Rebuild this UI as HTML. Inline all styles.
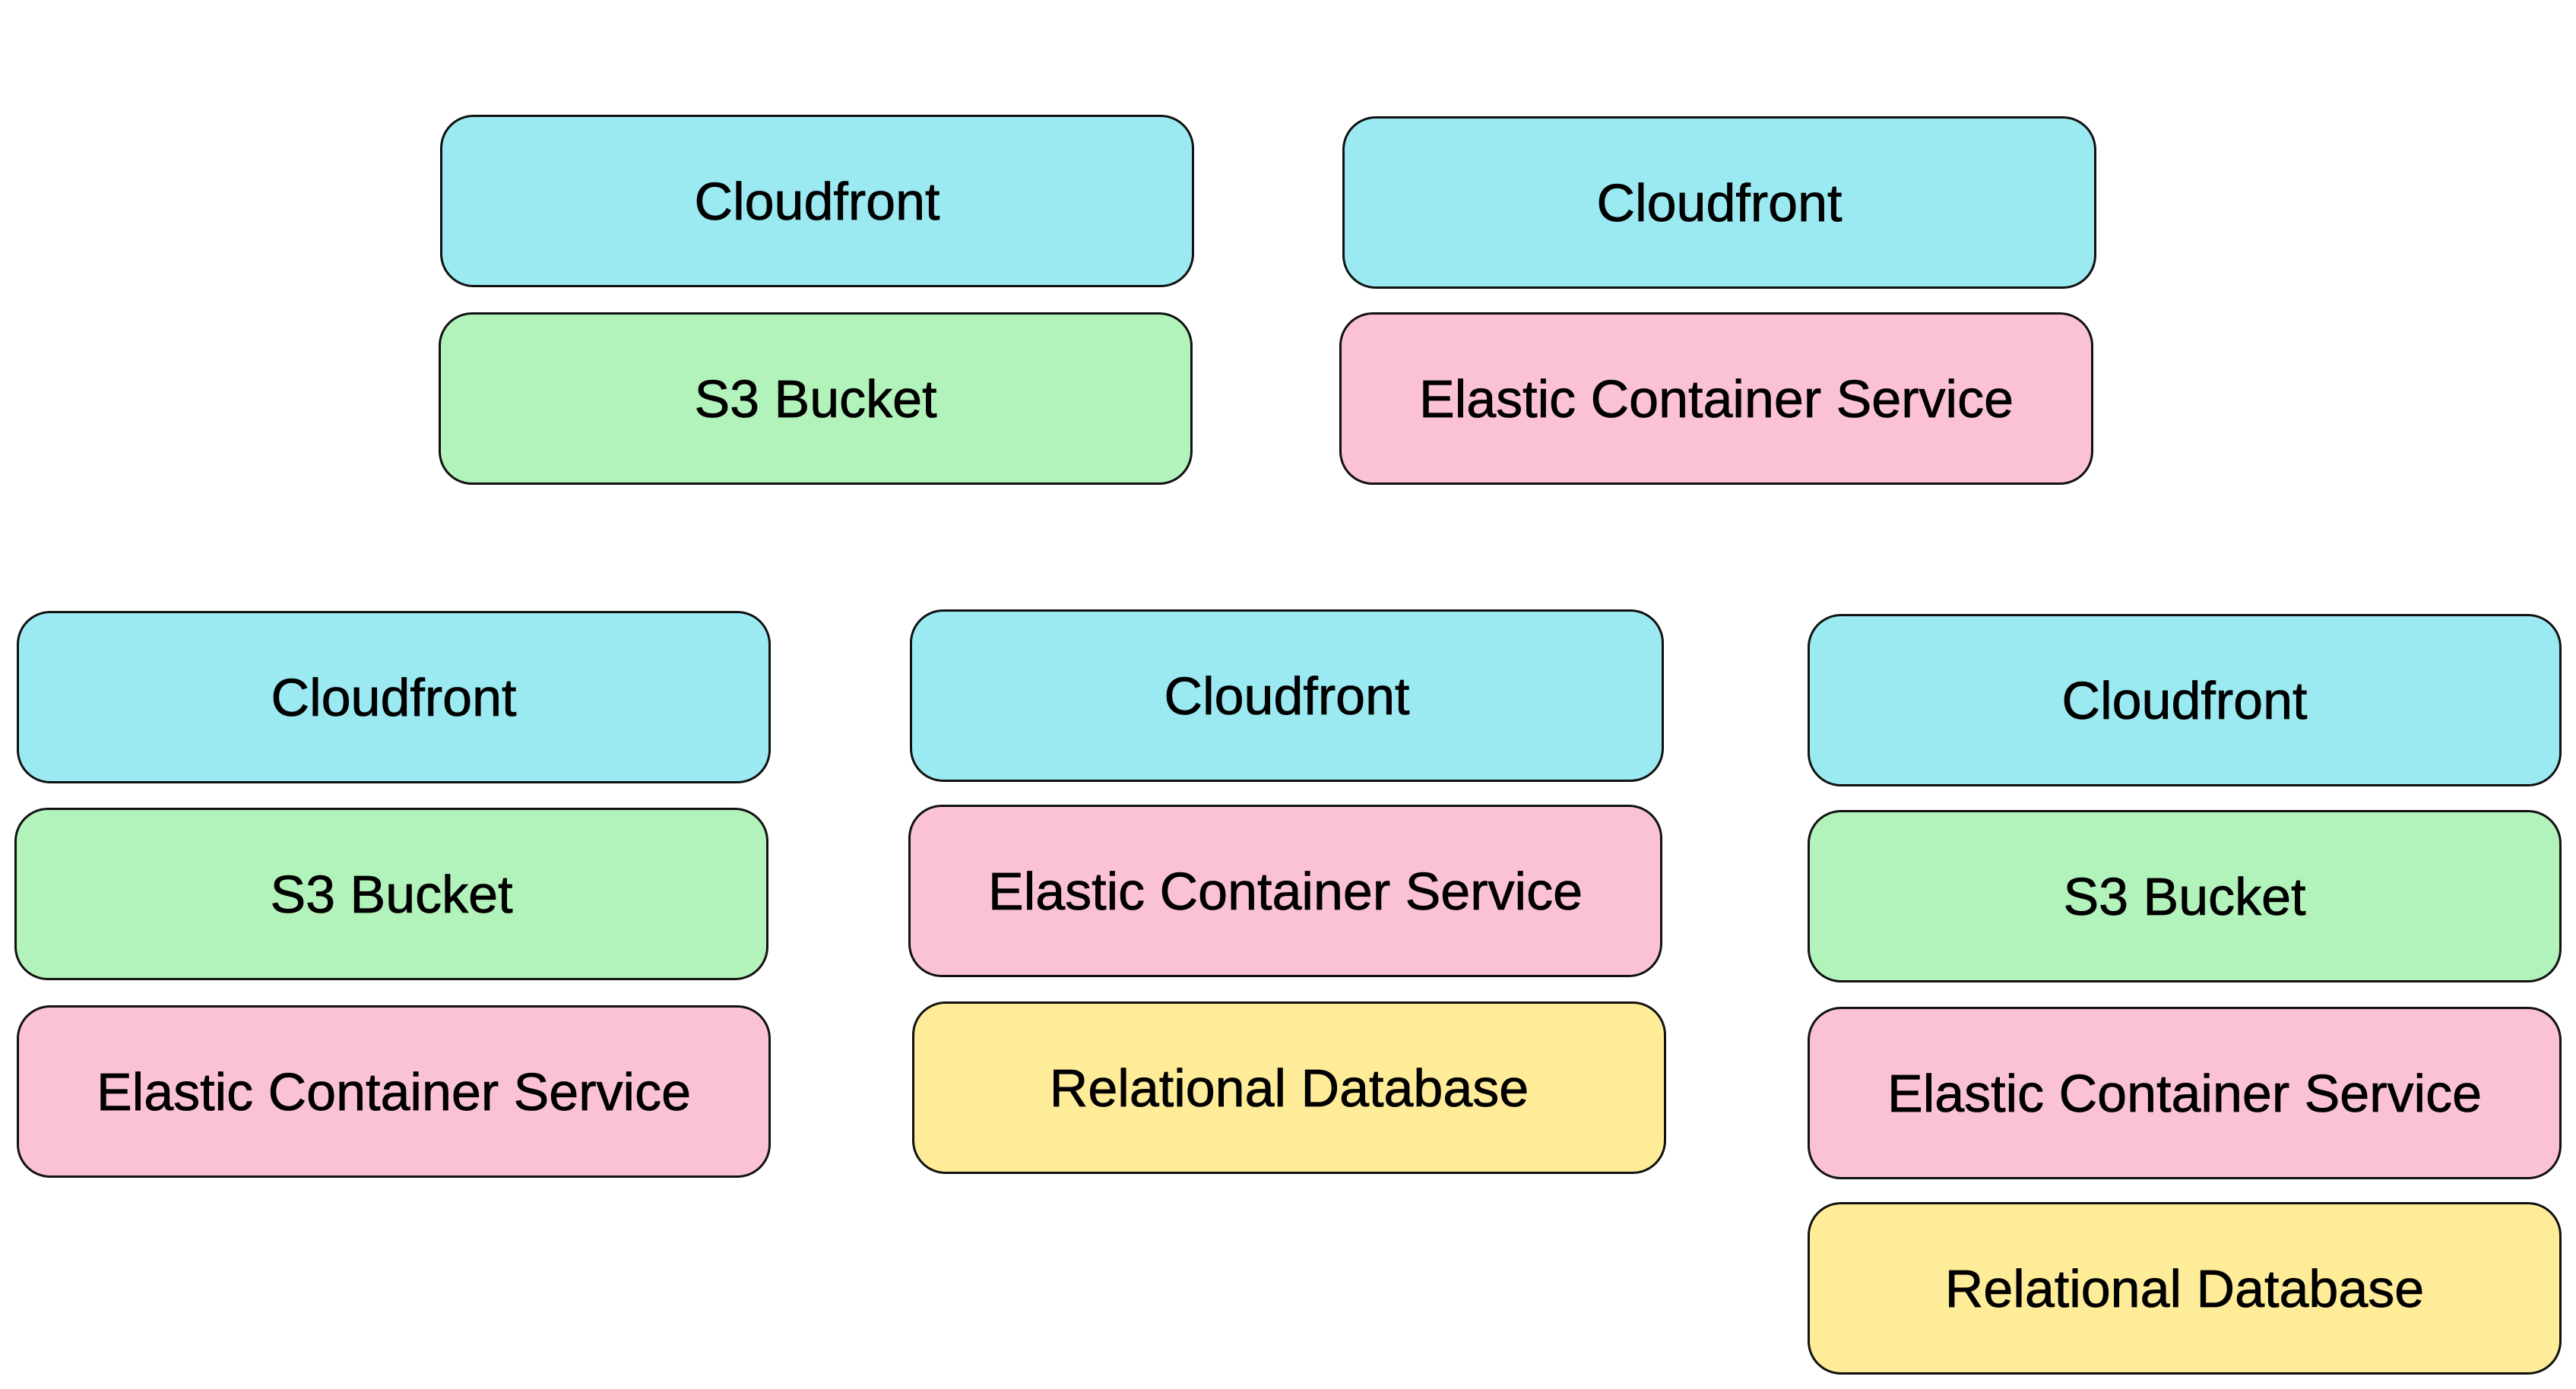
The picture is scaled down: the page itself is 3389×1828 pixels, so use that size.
<!DOCTYPE html>
<html><head><meta charset="utf-8"><style>
body{margin:0;width:3389px;height:1828px;background:#fff;position:relative;overflow:hidden;font-family:"Liberation Sans",sans-serif}
.b{position:absolute;width:986px;height:221px;border:3.5px solid #111;border-radius:44px;display:flex;align-items:center;justify-content:center;font-size:70px;color:#000;box-sizing:content-box;-webkit-text-stroke:0.8px #000}
.c{background:#9beaf2}.g{background:#b2f2bb}.p{background:#fbc2d7}.y{background:#ffec99}
</style></head><body>
<div class="b c" style="left:579px;top:151px">Cloudfront</div>
<div class="b g" style="left:577px;top:411px">S3 Bucket</div>
<div class="b c" style="left:1766px;top:153px">Cloudfront</div>
<div class="b p" style="left:1762px;top:411px">Elastic Container Service</div>

<div class="b c" style="left:22px;top:804px">Cloudfront</div>
<div class="b g" style="left:19px;top:1063px">S3 Bucket</div>
<div class="b p" style="left:22px;top:1323px">Elastic Container Service</div>

<div class="b c" style="left:1197px;top:802px">Cloudfront</div>
<div class="b p" style="left:1195px;top:1059px">Elastic Container Service</div>
<div class="b y" style="left:1200px;top:1318px">Relational Database</div>

<div class="b c" style="left:2378px;top:808px">Cloudfront</div>
<div class="b g" style="left:2378px;top:1066px">S3 Bucket</div>
<div class="b p" style="left:2378px;top:1325px">Elastic Container Service</div>
<div class="b y" style="left:2378px;top:1582px">Relational Database</div>
</body></html>
